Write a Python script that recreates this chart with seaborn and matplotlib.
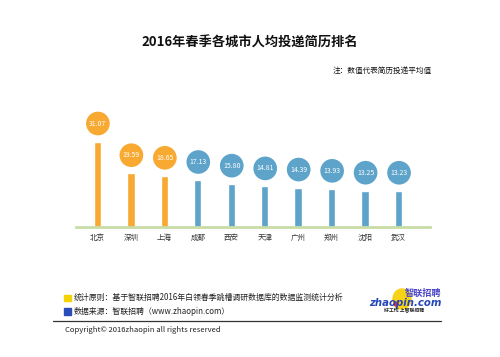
import numpy as np
import pandas as pd
import seaborn as sns
import matplotlib.pyplot as plt
from matplotlib.transforms import offset_copy
from matplotlib.lines import Line2D
from matplotlib.patches import Rectangle, Ellipse

# 数据
城市 = ["北京", "深圳", "上海", "成都", "西安", "天津", "广州", "郑州", "沈阳", "武汉"]
投递量 = [31.07, 19.59, 18.65, 17.13, 15.80, 14.81, 14.39, 13.93, 13.25, 13.23]
颜色 = ["#F8A931"] * 3 + ["#5DA3CA"] * 7

标题 = "2016年春季各城市人均投递简历排名"
注释 = "注：数值代表简历投递平均值"
统计原则 = "统计原则：基于智联招聘2016年白领春季跳槽调研数据库的数据监测统计分析"
数据来源 = "数据来源：智联招聘（www.zhaopin.com）"
版权 = "Copyright© 2016zhaopin all rights reserved"

sns.set_theme(style="white")
plt.rcParams['font.family'] = ['Noto Sans CJK SC', 'DejaVu Sans']

W, H = 500, 357
fig = plt.figure(figsize=(5, 3.57), dpi=100)
ax = fig.add_axes([76 / W, 1 - 227.3 / H, 354 / W, 127.3 / H])

df = pd.DataFrame({"城市": 城市, "投递量": 投递量})
sns.barplot(data=df, x="城市", y="投递量", hue="城市", palette=颜色,
            legend=False, width=0.22, ax=ax, saturation=1)

# 圆形标签（在柱顶上方偏移）
圆形变换 = offset_copy(ax.transData, fig=fig, x=0.5, y=18, units='dots')
xs = np.arange(len(城市))
ax.scatter(xs, 投递量, s=290, c=颜色, transform=圆形变换, zorder=5,
           clip_on=False, linewidths=0)
for x, v in zip(xs, 投递量):
    ax.text(x, v, f"{v:.2f}", transform=圆形变换, ha="center", va="center",
            color="white", fontsize=5, zorder=6, clip_on=False)

ax.set_xlim(-0.64, 9.94)
ax.set_ylim(0, 46.1)
ax.set_xlabel("")
ax.set_ylabel("")
ax.set_yticks([])
for s in ["top", "right", "left"]:
    ax.spines[s].set_visible(False)
ax.spines["bottom"].set_color("#C8DCA6")
ax.spines["bottom"].set_linewidth(2)
ax.tick_params(axis="x", length=0, pad=5, labelsize=5.4, labelcolor="#333333")

# 标题和注释
fig.text(250 / W, 1 - 43 / H, 标题, ha="center", va="center",
         fontsize=9.5, fontweight="bold", color="#111111")
fig.text(432 / W, 1 - 71 / H, 注释, ha="right", va="center",
         fontsize=5.5, color="#111111")

# 页脚
fig.add_artist(Rectangle((64 / W, 1 - 301 / H), 6.5 / W, 6.5 / H,
                         transform=fig.transFigure, color="#F5D300"))
fig.add_artist(Rectangle((64 / W, 1 - 314.5 / H), 6.5 / W, 6.5 / H,
                         transform=fig.transFigure, color="#2A4DBA"))
fig.text(74 / W, 1 - 297.7 / H, 统计原则, ha="left", va="center",
         fontsize=5.7, color="#222222")
fig.text(74 / W, 1 - 311 / H, 数据来源, ha="left", va="center",
         fontsize=5.7, color="#222222")
fig.add_artist(Line2D([53 / W, 441 / W], [1 - 321.3 / H, 1 - 321.3 / H],
                      transform=fig.transFigure, color="#333333", lw=0.9))
fig.text(65 / W, 1 - 330.5 / H, 版权, ha="left", va="center",
         fontsize=5.5, color="#222222")

# 标志
fig.add_artist(Ellipse((402 / W, 1 - 299 / H), 18 / W, 20 / H,
                       transform=fig.transFigure, color="#F7D317"))
fig.text(441 / W, 1 - 293.5 / H, "智联招聘", ha="right", va="center",
         fontsize=6.6, fontweight="bold", color="#4B45C6")
fig.text(441 / W, 1 - 303 / H, "zhaopin.com", ha="right", va="center",
         fontsize=7.3, fontweight="bold", fontstyle="italic", color="#2747B8",
         family=["DejaVu Sans"])
fig.add_artist(Ellipse((396 / W, 1 - 304 / H), 4 / W, 4 / H,
                       transform=fig.transFigure, color="#E0302A"))
fig.text(404 / W, 1 - 311 / H, "好工作 上智联招聘", ha="center", va="center",
         fontsize=3.5, fontweight="bold", color="#222222")

fig.savefig("out.png", dpi=100, facecolor="white")
